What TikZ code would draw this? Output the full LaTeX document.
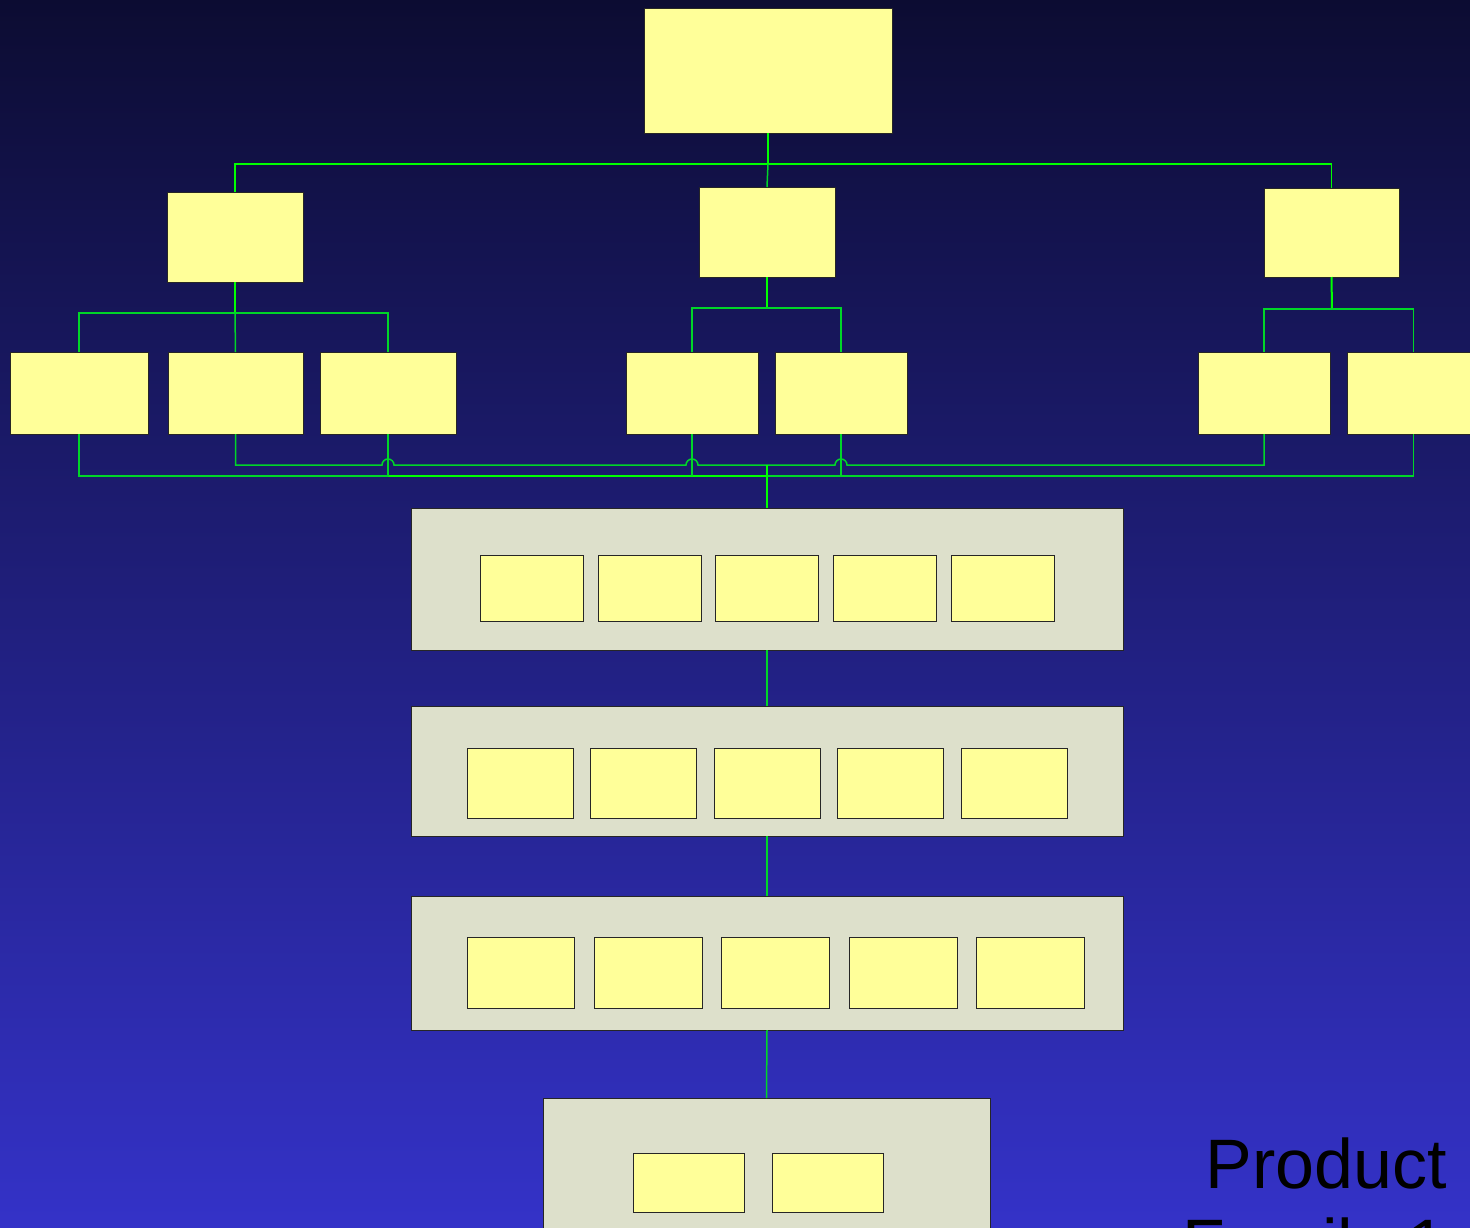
\documentclass[tikz,border=0pt]{standalone}
\usepackage{fontspec}
\setmainfont{Liberation Sans}
\begin{document}
\begin{tikzpicture}[x=1pt,y=-1pt,
  ybox/.style={draw=black!85, line width=0.9pt, fill={rgb,255:red,255;green,255;blue,153}, inner sep=0pt, outer sep=0pt},
  band/.style={draw=black!85, line width=0.9pt, fill={rgb,255:red,221;green,224;blue,203}, inner sep=0pt, outer sep=0pt},
  trunk/.style={draw={rgb,255:red,0;green,255;blue,0}, line width=2pt},
  twig/.style={draw={rgb,255:red,0;green,214;blue,40}, line width=1.5pt},
]
% background
\shade[top color={rgb,255:red,12;green,12;blue,50}, bottom color={rgb,255:red,52;green,50;blue,200}]
  (0,0) rectangle (1470,1227);
\useasboundingbox (0,0) rectangle (1470,1227);

% box helper: name, x1, y1, x2, y2, style
\newcommand\bx[6]{\node[#6, minimum width={(#4-#2)*1pt}, minimum height={(#5-#3)*1pt}] (#1) at ({(#2+#4)/2},{(#3+#5)/2}) {};}

% hierarchy
\bx{top}{644}{8}{892}{133}{ybox}
\bx{a}{167}{192}{303}{282}{ybox}
\bx{b}{699}{187}{835}{277}{ybox}
\bx{c}{1264}{188}{1399}{277}{ybox}
\bx{a1}{10}{352}{148}{434}{ybox}
\bx{a2}{168}{352}{303}{434}{ybox}
\bx{a3}{320}{352}{456}{434}{ybox}
\bx{b1}{626}{352}{758}{434}{ybox}
\bx{b2}{775}{352}{907}{434}{ybox}
\bx{c1}{1198}{352}{1330}{434}{ybox}
\bx{c2}{1347}{352}{1480}{434}{ybox}

% bands
\bx{L1}{411}{508}{1123}{650}{band}
\bx{L2}{411}{706}{1123}{836}{band}
\bx{L3}{411}{896}{1123}{1030}{band}
\bx{L4}{543}{1098}{990}{1240}{band}

\bx{p1}{480}{555}{583}{621}{ybox}
\bx{p2}{598}{555}{701}{621}{ybox}
\bx{p3}{715}{555}{818}{621}{ybox}
\bx{p4}{833}{555}{936}{621}{ybox}
\bx{p5}{951}{555}{1054}{621}{ybox}

\bx{q1}{467}{748}{573}{818}{ybox}
\bx{q2}{590}{748}{696}{818}{ybox}
\bx{q3}{714}{748}{820}{818}{ybox}
\bx{q4}{837}{748}{943}{818}{ybox}
\bx{q5}{961}{748}{1067}{818}{ybox}

\bx{r1}{467}{937}{574}{1008}{ybox}
\bx{r2}{594}{937}{702}{1008}{ybox}
\bx{r3}{721}{937}{829}{1008}{ybox}
\bx{r4}{849}{937}{957}{1008}{ybox}
\bx{r5}{976}{937}{1084}{1008}{ybox}

\bx{s1}{633}{1153}{744}{1212}{ybox}
\bx{s2}{772}{1153}{883}{1212}{ybox}

% bus coordinates
\coordinate (topbus) at (768,164);
\coordinate (abus) at (235,313);
\coordinate (bbus) at (767,308);
\coordinate (cbus) at (1332,309);
\coordinate (hi) at (767,465);
\coordinate (lo) at (767,476);

% top level connectors
\draw[trunk] (top.south) -- (topbus);
\draw[trunk, line width=1.5pt] (a.north) |- (topbus) -| (c.north);
\draw[twig] (topbus) -- (b.north);

% second level connectors
\draw[trunk] (a.south) -- (abus);
\draw[trunk] (b.south) -- (bbus);
\draw[trunk] (c.south) -- (cbus);
\draw[twig] (a1.north) |- (abus) -| (a3.north);
\draw[twig] (abus) -- (a2.north);
\draw[twig] (b1.north) |- (bbus) -| (b2.north);
\draw[twig] (c1.north) |- (cbus) -| (c2.north);

% lower bus with line hops
\draw[twig] (a2.south) |- ([xshift=-6pt]a3.south |- hi) arc (180:0:6pt)
  -- ([xshift=-6pt]b1.south |- hi) arc (180:0:6pt)
  -- ([xshift=-6pt]b2.south |- hi) arc (180:0:6pt)
  -| (c1.south);
\draw[twig] (a1.south) |- (lo) -| (c2.south);
\draw[trunk] (a3.south |- lo) -- (lo);
\draw[twig] (a3.south) -- (a3.south |- lo);
\draw[twig] (b1.south) -- (b1.south |- lo);
\draw[twig] (b2.south) -- (b2.south |- lo);
\draw[trunk] (hi) -- (L1.north);

% band connectors
\draw[twig] (L1.south) -- (L2.north);
\draw[twig] (L2.south) -- (L3.north);
\draw[twig] (L3.south) -- (L4.north);

% caption
\node[anchor=base east, align=right, inner sep=0pt, font=\fontsize{70}{80}\selectfont] (cap) at (1447,1268) {Product\\Family 1};
\end{tikzpicture}
\end{document}
